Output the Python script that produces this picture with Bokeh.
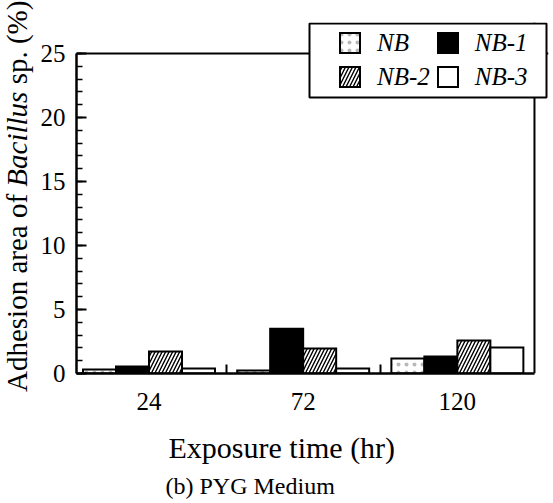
from bokeh.plotting import figure
from bokeh.layouts import row
from bokeh.models import (Range1d, FixedTicker, SingleIntervalTicker, Title, Span, Div,
                          Legend, LegendItem, BoxAnnotation)
from bokeh.embed import file_html
from bokeh.resources import INLINE

# ---- data ----
times = ["24", "72", "120"]
series = ["NB", "NB-1", "NB-2", "NB-3"]
nb = [0.31, 0.23, 1.17]
nb1 = [0.55, 3.50, 1.33]
nb2 = [1.72, 1.95, 2.58]
nb3 = [0.39, 0.39, 2.03]
values = [nb, nb1, nb2, nb3]
y_ticks_step = 5
y_max = 25
y_title_html = "Adhesion area of <i>Bacillus</i> sp. (%)"
x_title = "Exposure  time (hr)"
caption = "(b) PYG Medium"

FONT = "Liberation Serif"
H = 500
LAB_W = 34
PX_X = 154.2   # px per x unit
PX_Y = 12.8    # px per y unit
x0 = 0.03
x_end = float(len(times))

# ---------- rotated y title (mixed italic) ----------
lab = Div(
    text=(
        '<div style="position:relative;width:%dpx;height:%dpx;">'
        '<div style="position:absolute;left:2.7px;top:392px;transform:rotate(-90deg);'
        'transform-origin:0 0;white-space:nowrap;font-family:\'%s\';font-size:29px;'
        'line-height:29px;color:black;">%s</div></div>' % (LAB_W, H, FONT, y_title_html)
    ),
    width=LAB_W, height=H, margin=0,
)

# ---------- main plot ----------
p = figure(frame_width=472, frame_height=351,
           min_border_left=76 - LAB_W, min_border_top=22, min_border_right=2,
           min_border_bottom=H - 22 - 351,
           x_range=Range1d(x0, x0 + 472 / PX_X), y_range=Range1d(0, 351 / PX_Y),
           output_backend="svg", toolbar_location=None)
p.grid.visible = False
p.background_fill_color = "white"
p.border_fill_color = "white"
p.outline_line_color = None

# top and right borders of the plotting box
p.add_layout(Span(location=y_max, dimension="width", line_color="black", line_width=2))
p.add_layout(Span(location=x_end, dimension="height", line_color="black", line_width=2))

bw = 0.214
styles = [
    dict(fill_color="white", hatch_pattern=".", hatch_color="#888888", hatch_scale=8, hatch_alpha=0.6, hatch_weight=1),
    dict(fill_color="black"),
    dict(fill_color="white", hatch_pattern="/", hatch_color="black", hatch_scale=7, hatch_weight=1.4),
    dict(fill_color="white"),
]
renderers = []
for i, (name, vals) in enumerate(zip(series, values)):
    xs = [g + 0.5 + (i - 1.5) * bw for g in range(len(times))]
    r = p.vbar(x=xs, top=vals, width=bw, bottom=0, line_color="black", line_width=2,
               line_join="miter", **styles[i])
    renderers.append(r)

# x axis
xa = p.xaxis[0]
centers = [g + 0.5 for g in range(len(times))]
xa.ticker = FixedTicker(ticks=centers, minor_ticks=[float(g) for g in range(1, len(times))])
xa.major_label_overrides = {c: t for c, t in zip(centers, times)}
xa.bounds = (x0, x_end)
xa.major_tick_in = 0
xa.major_tick_out = 0
xa.minor_tick_in = 9
xa.minor_tick_out = 0
xa.minor_tick_line_width = 2
xa.axis_line_width = 2.5
xa.major_label_standoff = 19
xa.major_label_text_font = FONT
xa.major_label_text_font_size = "25px"
xa.major_label_text_color = "black"

ya = p.yaxis[0]
ya.ticker = SingleIntervalTicker(interval=y_ticks_step, num_minor_ticks=5)
ya.bounds = (0, y_max)
ya.major_tick_in = 10
ya.major_tick_out = 0
ya.minor_tick_in = 6
ya.minor_tick_out = 0
ya.major_tick_line_width = 2
ya.minor_tick_line_width = 1.5
ya.axis_line_width = 2.5
ya.major_label_standoff = 11
ya.major_label_text_font = FONT
ya.major_label_text_font_size = "25px"
ya.major_label_text_color = "black"

# captions below
p.add_layout(Title(text=x_title, align="left", offset=92, standoff=33,
                   text_font=FONT, text_font_size="30px", text_font_style="normal",
                   text_color="black"), "below")
p.add_layout(Title(text=caption, align="left", offset=89, standoff=-20,
                   text_font=FONT, text_font_size="24px", text_font_style="normal",
                   text_color="black"), "below")

# legend frame
p.add_layout(BoxAnnotation(left=x0 + (309 - 76) / PX_X, right=x0 + (546 - 76) / PX_X,
                           top=(373 - 23) / PX_Y, bottom=(373 - 97) / PX_Y,
                           fill_color="white", fill_alpha=1, line_color="black",
                           line_alpha=1, line_width=2, level="annotation"))

order = [0, 2, 1, 3]
legend = Legend(items=[LegendItem(label=series[k], renderers=[renderers[k]]) for k in order],
                ncols=2, location=(261, 282), padding=0, margin=0, spacing=5,
                glyph_width=25, glyph_height=25, label_height=29, label_width=52,
                label_standoff=15, border_line_alpha=0, background_fill_alpha=0,
                label_text_font=FONT, label_text_font_style="italic",
                label_text_font_size="25px", label_text_color="black")
p.add_layout(legend)

layout = row(lab, p, spacing=0)
open("out.html", "w").write(file_html(layout, INLINE))
